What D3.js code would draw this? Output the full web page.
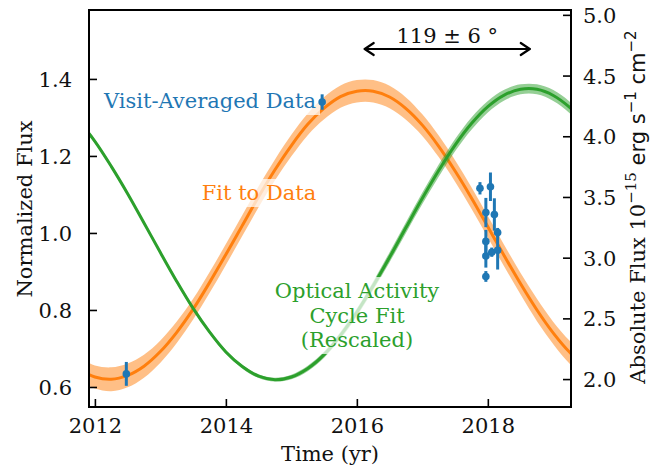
<!DOCTYPE html>
<html>
<head>
<meta charset="utf-8">
<script src="https://cdn.jsdelivr.net/npm/d3@7"></script>
<style>
  html, body { margin: 0; padding: 0; background: #fff; }
  svg { display: block; }
  text { font-family: "DejaVu Serif", serif; }
</style>
</head>
<body>
<svg id="chart" width="663" height="470"></svg>
<script>
// ---------- data ----------
const years = [2011.75, 2012.00, 2012.25, 2012.50, 2012.75, 2013.00, 2013.25, 2013.50,
               2013.75, 2014.00, 2014.25, 2014.50, 2014.75, 2015.00, 2015.25, 2015.50,
               2015.75, 2016.00, 2016.25, 2016.50, 2016.75, 2017.00, 2017.25, 2017.50,
               2017.75, 2018.00, 2018.25, 2018.50, 2018.75, 2019.00, 2019.25, 2019.50];
const fitFlux = [0.647, 0.626, 0.620, 0.630, 0.654, 0.692, 0.742, 0.802,
                 0.871, 0.944, 1.019, 1.094, 1.164, 1.227, 1.282, 1.324,
                 1.354, 1.368, 1.368, 1.353, 1.323, 1.280, 1.225, 1.161,
                 1.091, 1.016, 0.941, 0.868, 0.800, 0.740, 0.690, 0.652];
const fitErr = [0.030, 0.030, 0.031, 0.031, 0.030, 0.029, 0.028, 0.027,
                0.027, 0.027, 0.027, 0.027, 0.027, 0.028, 0.028, 0.029,
                0.029, 0.029, 0.029, 0.029, 0.029, 0.028, 0.028, 0.028,
                0.028, 0.028, 0.028, 0.028, 0.029, 0.029, 0.030, 0.030];
const cycleFlux = [1.292, 1.238, 1.173, 1.102, 1.026, 0.949, 0.874, 0.804,
                   0.743, 0.691, 0.653, 0.628, 0.619, 0.626, 0.648, 0.684,
                   0.734, 0.794, 0.863, 0.937, 1.014, 1.090, 1.162, 1.228,
                   1.284, 1.328, 1.358, 1.373, 1.373, 1.357, 1.326, 1.282];
const cycleErr = [0.005, 0.005, 0.005, 0.005, 0.005, 0.005, 0.005, 0.005,
                  0.005, 0.005, 0.005, 0.005, 0.005, 0.006, 0.007, 0.008,
                  0.009, 0.010, 0.011, 0.013, 0.014, 0.015, 0.016, 0.016,
                  0.016, 0.015, 0.014, 0.013, 0.013, 0.014, 0.015, 0.016];

const obsYear = [2012.48, 2015.47, 2017.88, 2018.04, 2017.97, 2017.97, 2017.97, 2017.97,
                 2018.10, 2018.06, 2018.15, 2018.15];
const obsFlux = [0.634, 1.340, 1.116, 1.120, 1.053, 0.978, 0.940, 0.887,
                 1.048, 0.950, 1.001, 0.955];
const obsErr  = [0.031, 0.020, 0.016, 0.037, 0.038, 0.030, 0.030, 0.014,
                 0.042, 0.012, 0.012, 0.050];

const xTicks = [2012, 2014, 2016, 2018];
const yLeftTicks = [0.6, 0.8, 1.0, 1.2, 1.4];
const yRightTicks = [2.0, 2.5, 3.0, 3.5, 4.0, 4.5, 5.0];
const phaseArrow = [2016.12, 2018.64];
const phaseLabel = "119 ± 6 °";

// ---------- layout ----------
const L = 89, R = 571, T = 10, B = 407;
const svg = d3.select("#chart");

const x = d3.scaleLinear().domain([2011.91, 2019.27]).range([L, R]);
const y = d3.scaleLinear().domain([0.548, 1.579]).range([B, T]);
const y2 = d3.scaleLinear().domain([1.77, 5.04]).range([B, T]);

const C_BLUE = "#1f77b4", C_ORANGE = "#ff7f0e", C_GREEN = "#2ca02c";

svg.append("defs").append("clipPath").attr("id", "clip")
  .append("rect").attr("x", L).attr("y", T).attr("width", R - L).attr("height", B - T);

const plot = svg.append("g").attr("clip-path", "url(#clip)");

const rowsFit = years.map((t, i) => ({t, v: fitFlux[i], e: fitErr[i]}));
const rowsCyc = years.map((t, i) => ({t, v: cycleFlux[i], e: cycleErr[i]}));

const band = d3.area().curve(d3.curveCatmullRom)
  .x(d => x(d.t)).y0(d => y(d.v - d.e)).y1(d => y(d.v + d.e));
const line = d3.line().curve(d3.curveCatmullRom)
  .x(d => x(d.t)).y(d => y(d.v));

plot.append("path").attr("d", band(rowsFit)).attr("fill", C_ORANGE).attr("fill-opacity", 0.5);
plot.append("path").attr("d", line(rowsFit)).attr("fill", "none")
  .attr("stroke", C_ORANGE).attr("stroke-width", 3);
plot.append("path").attr("d", band(rowsCyc)).attr("fill", C_GREEN).attr("fill-opacity", 0.5);
plot.append("path").attr("d", line(rowsCyc)).attr("fill", "none")
  .attr("stroke", C_GREEN).attr("stroke-width", 3);

// ---------- labels with translucent white boxes ----------
function boxedLabel(lines, cx, baseline, color, lh) {
  const g = svg.append("g");
  const rect = g.append("rect").attr("fill", "#fff").attr("fill-opacity", 0.72);
  const t = g.append("text").attr("text-anchor", "middle").attr("font-size", 21)
    .attr("fill", color);
  lines.forEach((s, i) => {
    t.append("tspan").attr("x", cx).attr("y", baseline + i * lh).text(s);
  });
  const bb = t.node().getBBox();
  rect.attr("x", bb.x - 4).attr("y", bb.y - 2)
      .attr("width", bb.width + 8).attr("height", bb.height + 4);
}
boxedLabel(["Visit-Averaged Data"], 210, 108, C_BLUE, 0);
boxedLabel(["Fit to Data"], 259, 200, C_ORANGE, 0);
boxedLabel(["Optical Activity", "Cycle Fit", "(Rescaled)"], 357, 298, C_GREEN, 24.5);

// ---------- data points ----------
const pts = svg.append("g");
obsYear.forEach((t, i) => {
  pts.append("line")
    .attr("x1", x(t)).attr("x2", x(t))
    .attr("y1", y(obsFlux[i] - obsErr[i])).attr("y2", y(obsFlux[i] + obsErr[i]))
    .attr("stroke", C_BLUE).attr("stroke-width", 3);
});
obsYear.forEach((t, i) => {
  pts.append("circle").attr("cx", x(t)).attr("cy", y(obsFlux[i])).attr("r", 3.8)
    .attr("fill", C_BLUE);
});

// ---------- phase arrow ----------
const ay = 49, ax1 = x(phaseArrow[0]), ax2 = x(phaseArrow[1]);
const arr = svg.append("g").attr("stroke", "#000").attr("stroke-width", 2.2)
  .attr("fill", "none").attr("stroke-linecap", "round").attr("stroke-linejoin", "round");
arr.append("line").attr("x1", ax1).attr("x2", ax2).attr("y1", ay).attr("y2", ay);
arr.append("path").attr("d", `M${ax1 + 9},${ay - 6} L${ax1},${ay} L${ax1 + 9},${ay + 6}`);
arr.append("path").attr("d", `M${ax2 - 9},${ay - 6} L${ax2},${ay} L${ax2 - 9},${ay + 6}`);
svg.append("text").attr("x", (ax1 + ax2) / 2).attr("y", 43).attr("text-anchor", "middle")
  .attr("font-size", 21).attr("fill", "#111").text(phaseLabel);

// ---------- axes ----------
const ax = svg.append("g");
const xAxis = d3.axisBottom(x).tickValues(xTicks).tickFormat(d3.format("d"))
  .tickSizeInner(-8).tickSizeOuter(0).tickPadding(11);
const yAxisL = d3.axisLeft(y).tickValues(yLeftTicks).tickFormat(d3.format(".1f"))
  .tickSizeInner(-8).tickSizeOuter(0).tickPadding(17);
const yAxisR = d3.axisRight(y2).tickValues(yRightTicks).tickFormat(d3.format(".1f"))
  .tickSizeInner(-8).tickSizeOuter(0).tickPadding(12);

function styleAxis(g) {
  g.select(".domain").remove();
  g.selectAll(".tick line").attr("stroke", "#000").attr("stroke-width", 1.6);
  g.selectAll(".tick text").attr("font-family", "DejaVu Serif, serif")
    .attr("font-size", 21).attr("fill", "#111");
}
ax.append("g").attr("transform", `translate(0,${B})`).call(xAxis).call(styleAxis);
ax.append("g").attr("transform", `translate(${L},0)`).call(yAxisL).call(styleAxis)
  .selectAll(".tick text").attr("dy", "0.36em");
ax.append("g").attr("transform", `translate(${R},0)`).call(yAxisR).call(styleAxis)
  .selectAll(".tick text").attr("dy", "0.36em");

svg.append("rect").attr("x", L).attr("y", T).attr("width", R - L).attr("height", B - T)
  .attr("fill", "none").attr("stroke", "#000").attr("stroke-width", 2);

// axis titles
svg.append("text").attr("x", (L + R) / 2).attr("y", 461).attr("text-anchor", "middle")
  .attr("font-size", 21).attr("fill", "#111").text("Time (yr)");
svg.append("text").attr("transform", "translate(32,209) rotate(-90)")
  .attr("text-anchor", "middle").attr("font-size", 21).attr("fill", "#111")
  .text("Normalized Flux");

const rt = svg.append("text").attr("transform", "translate(645,207) rotate(-90)")
  .attr("text-anchor", "middle").attr("font-size", 21).attr("fill", "#111");
rt.append("tspan").text("Absolute Flux 10");
rt.append("tspan").attr("font-size", 15).attr("dy", -9).text("−15");
rt.append("tspan").attr("font-family", "DejaVu Sans, sans-serif").attr("dy", 9).text(" erg s");
rt.append("tspan").attr("font-family", "DejaVu Sans, sans-serif").attr("font-size", 15)
  .attr("dy", -9).text("−1");
rt.append("tspan").attr("font-family", "DejaVu Sans, sans-serif").attr("dy", 9).text(" cm");
rt.append("tspan").attr("font-family", "DejaVu Sans, sans-serif").attr("font-size", 15)
  .attr("dy", -9).text("−2");
</script>
</body>
</html>
